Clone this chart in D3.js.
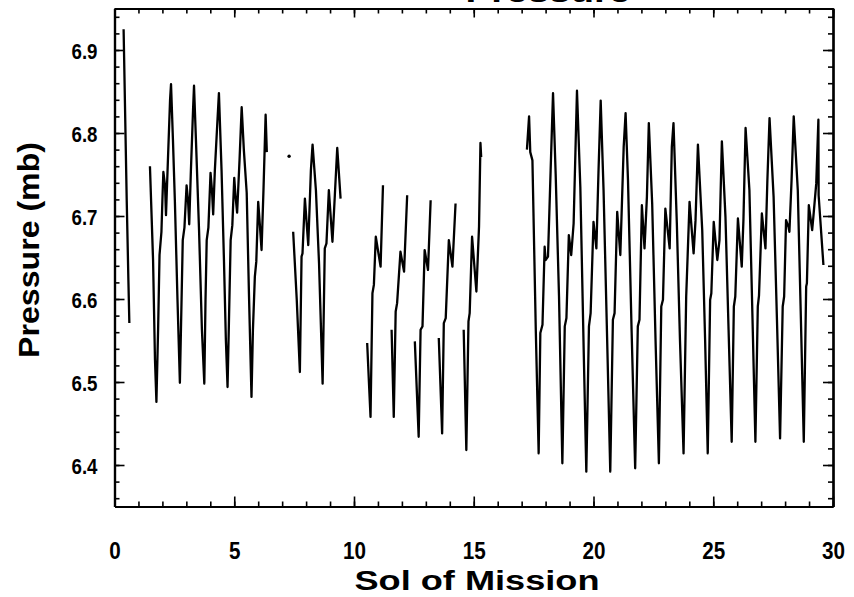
<!DOCTYPE html>
<html>
<head>
<meta charset="utf-8">
<title>Pressure</title>
<script src="https://d3js.org/d3.v7.min.js"></script>
<style>
  body { margin: 0; background: #fff; }
  svg text { font-family: "Liberation Sans", Arial, sans-serif; font-weight: bold; fill: #000; }
</style>
</head>
<body>
<svg id="chart" width="854" height="597"></svg>
<script>
// [sol, pressure in mb], one array per unbroken piece of record
var segA = [[0.38,6.925],[0.51,6.719],[0.58,6.623],[0.62,6.571]];

var segB = [[1.48,6.760],[1.61,6.647],[1.69,6.527],[1.75,6.476],[1.82,6.563],[1.88,6.653],[1.96,6.681],
  [2.00,6.719],[2.04,6.753],[2.11,6.737],[2.15,6.701],[2.23,6.767],[2.32,6.840],[2.36,6.859],[2.44,6.792],
  [2.52,6.719],[2.63,6.599],[2.73,6.499],[2.80,6.599],[2.85,6.671],[2.92,6.686],[3.01,6.737],[3.07,6.719],
  [3.12,6.690],[3.19,6.755],[3.28,6.828],[3.32,6.857],[3.40,6.792],[3.53,6.683],[3.65,6.563],[3.75,6.498],
  [3.80,6.599],[3.85,6.671],[3.92,6.686],[4.01,6.752],[4.07,6.731],[4.12,6.702],[4.19,6.755],[4.30,6.816],
  [4.36,6.848],[4.47,6.755],[4.57,6.647],[4.65,6.551],[4.72,6.494],[4.78,6.575],[4.85,6.671],[4.92,6.689],
  [5.00,6.746],[5.05,6.725],[5.12,6.704],[5.22,6.767],[5.31,6.831],[5.40,6.780],[5.52,6.728],[5.61,6.611],
  [5.72,6.482],[5.78,6.563],[5.86,6.627],[5.92,6.645],[6.00,6.717],[6.07,6.689],[6.14,6.659],[6.22,6.731],
  [6.31,6.822],[6.36,6.777]];

var lonePoint = [7.29, 6.772];

var segC = [[7.46,6.681],[7.61,6.599],[7.74,6.512],[7.81,6.651],[7.85,6.655],[7.95,6.721],[8.09,6.665],
  [8.20,6.755],[8.27,6.786],[8.41,6.731],[8.54,6.643],[8.69,6.498],[8.78,6.661],[8.85,6.667],[8.95,6.731],
  [9.10,6.669],[9.20,6.725],[9.30,6.782],[9.44,6.721]];

var segD1 = [[10.55,6.547],[10.62,6.502],[10.69,6.458],[10.77,6.607],[10.83,6.617],[10.91,6.675],[11.11,6.639],[11.21,6.737]];
var segD2 = [[11.57,6.563],[11.66,6.458],[11.74,6.585],[11.80,6.595],[11.94,6.657],[12.09,6.633],[12.22,6.725]];
var segD3 = [[12.54,6.549],[12.70,6.434],[12.78,6.563],[12.86,6.567],[12.95,6.659],[13.09,6.635],[13.20,6.719]];
var segD4 = [[13.54,6.553],[13.68,6.438],[13.75,6.571],[13.83,6.577],[13.96,6.671],[14.11,6.639],[14.24,6.715]];
var segD5 = [[14.58,6.563],[14.69,6.418],[14.78,6.573],[14.83,6.583],[14.93,6.675],[15.11,6.609],[15.22,6.687],
  [15.28,6.788],[15.31,6.771]];

var segE = [[17.22,6.780],[17.31,6.820],[17.36,6.777],[17.45,6.767],[17.59,6.563],[17.71,6.414],[17.78,6.559],
  [17.87,6.569],[17.96,6.663],[18.00,6.647],[18.10,6.651],[18.21,6.755],[18.31,6.848],[18.42,6.751],[18.56,6.603],
  [18.70,6.402],[18.80,6.567],[18.87,6.577],[18.97,6.677],[19.07,6.653],[19.17,6.691],[19.31,6.851],[19.45,6.735],
  [19.59,6.539],[19.70,6.392],[19.81,6.567],[19.88,6.583],[20.00,6.693],[20.12,6.661],[20.21,6.755],[20.30,6.839],
  [20.42,6.731],[20.57,6.551],[20.70,6.392],[20.81,6.575],[20.88,6.583],[20.99,6.705],[21.12,6.653],[21.26,6.783],
  [21.34,6.824],[21.44,6.743],[21.59,6.563],[21.74,6.396],[21.85,6.567],[21.92,6.575],[22.02,6.713],[22.13,6.661],
  [22.23,6.723],[22.31,6.812],[22.45,6.715],[22.59,6.551],[22.73,6.402],[22.83,6.591],[22.90,6.599],[23.00,6.709],
  [23.18,6.661],[23.27,6.783],[23.34,6.812],[23.48,6.691],[23.61,6.551],[23.76,6.414],[23.87,6.603],[23.90,6.627],
  [24.01,6.717],[24.18,6.655],[24.26,6.695],[24.36,6.786],[24.54,6.683],[24.66,6.551],[24.77,6.414],[24.87,6.599],
  [24.92,6.607],[25.02,6.693],[25.17,6.647],[25.26,6.671],[25.36,6.790],[25.51,6.699],[25.64,6.563],[25.77,6.428],
  [25.86,6.591],[25.92,6.603],[26.03,6.697],[26.19,6.639],[26.26,6.695],[26.35,6.806],[26.51,6.731],[26.64,6.575],
  [26.76,6.428],[26.86,6.591],[26.91,6.604],[27.03,6.703],[27.18,6.661],[27.26,6.743],[27.35,6.818],[27.52,6.723],
  [27.66,6.575],[27.79,6.432],[27.90,6.591],[27.96,6.603],[28.04,6.695],[28.14,6.687],[28.18,6.681],[28.27,6.743],
  [28.36,6.820],[28.53,6.731],[28.66,6.575],[28.78,6.428],[28.88,6.615],[28.91,6.619],[28.99,6.713],[29.13,6.683],
  [29.18,6.699],[29.30,6.739],[29.39,6.816],[29.40,6.725],[29.60,6.641]];

var segments = [segA, segB, segC, segD1, segD2, segD3, segD4, segD5, segE];

var xMajor = [0, 5, 10, 15, 20, 25, 30];
var yMajor = [6.4, 6.5, 6.6, 6.7, 6.8, 6.9];
var yLabels = ["6.4", "6.5", "6.6", "6.7", "6.8", "6.9"];

var svg = d3.select("#chart");
var plotL = 114.5, plotR = 833, plotT = 8.5, plotB = 506.5;

var x = d3.scaleLinear().domain([0, 30]).range([plotL, plotR]);
var y = d3.scaleLinear().domain([6.35, 6.95]).range([plotB, plotT]);

var xMinor = d3.range(0, 31, 1);
var yMinor = d3.range(6.36, 6.95, 0.02);

function frameAxis(axis, tx, ty, vals, size) {
  var g = svg.append("g").attr("transform", "translate(" + tx + "," + ty + ")")
    .call(axis.tickValues(vals).tickSize(size).tickSizeOuter(0).tickFormat(""));
  g.select(".domain").attr("stroke", "#000").attr("stroke-width", 2.2);
  g.selectAll(".tick line").attr("stroke", "#000").attr("stroke-width", 1.6);
  return g;
}

// minor ticks all round
frameAxis(d3.axisBottom(x), 0, plotB, xMinor, -5);
frameAxis(d3.axisTop(x), 0, plotT, xMinor, -5);
frameAxis(d3.axisLeft(y), plotL, 0, yMinor, -5);
frameAxis(d3.axisRight(y), plotR, 0, yMinor, -5);
// major ticks
frameAxis(d3.axisTop(x), 0, plotT, xMajor, -9);
frameAxis(d3.axisRight(y), plotR, 0, yMajor, -10);

var gx = svg.append("g").attr("transform", "translate(0," + plotB + ")")
  .call(d3.axisBottom(x).tickValues(xMajor).tickSize(-10).tickSizeOuter(0).tickPadding(36).tickFormat(d3.format("d")));
gx.select(".domain").attr("stroke", "#000").attr("stroke-width", 2.2);
gx.selectAll(".tick line").attr("stroke", "#000").attr("stroke-width", 1.6);
gx.selectAll("text").attr("font-size", 23).attr("font-family", null)
  .attr("textLength", function(d) { return String(d).length * 11.5; })
  .attr("lengthAdjust", "spacingAndGlyphs");

var gy = svg.append("g").attr("transform", "translate(" + plotL + ",0)")
  .call(d3.axisLeft(y).tickValues(yMajor).tickSize(-10).tickSizeOuter(0).tickPadding(17)
    .tickFormat(function(d, i) { return yLabels[i]; }));
gy.select(".domain").attr("stroke", "#000").attr("stroke-width", 2.2);
gy.selectAll(".tick line").attr("stroke", "#000").attr("stroke-width", 1.6);
gy.selectAll("text").attr("font-size", 22).attr("font-family", null).attr("dy", "0.4em")
  .attr("textLength", 26).attr("lengthAdjust", "spacingAndGlyphs");

// the data
var line = d3.line().x(function(d) { return x(d[0]); }).y(function(d) { return y(d[1]); });
svg.append("g").selectAll("path").data(segments).enter().append("path")
  .attr("d", line)
  .attr("fill", "none")
  .attr("stroke", "#000")
  .attr("stroke-width", 2.3)
  .attr("stroke-linejoin", "round");

svg.append("circle").attr("cx", x(lonePoint[0])).attr("cy", y(lonePoint[1])).attr("r", 1.7).attr("fill", "#000");

// titles
svg.append("text").attr("x", 477).attr("y", 590).attr("text-anchor", "middle")
  .attr("font-size", 28).attr("textLength", 245).attr("lengthAdjust", "spacingAndGlyphs")
  .text("Sol of Mission");

svg.append("text").attr("transform", "translate(39,250) rotate(-90)").attr("text-anchor", "middle")
  .attr("font-size", 29).attr("textLength", 216).attr("lengthAdjust", "spacingAndGlyphs")
  .text("Pressure (mb)");

svg.append("text").attr("x", 548).attr("y", 1.5).attr("text-anchor", "middle")
  .attr("font-size", 30).attr("textLength", 165).attr("lengthAdjust", "spacingAndGlyphs")
  .text("Pressure");
</script>
</body>
</html>
